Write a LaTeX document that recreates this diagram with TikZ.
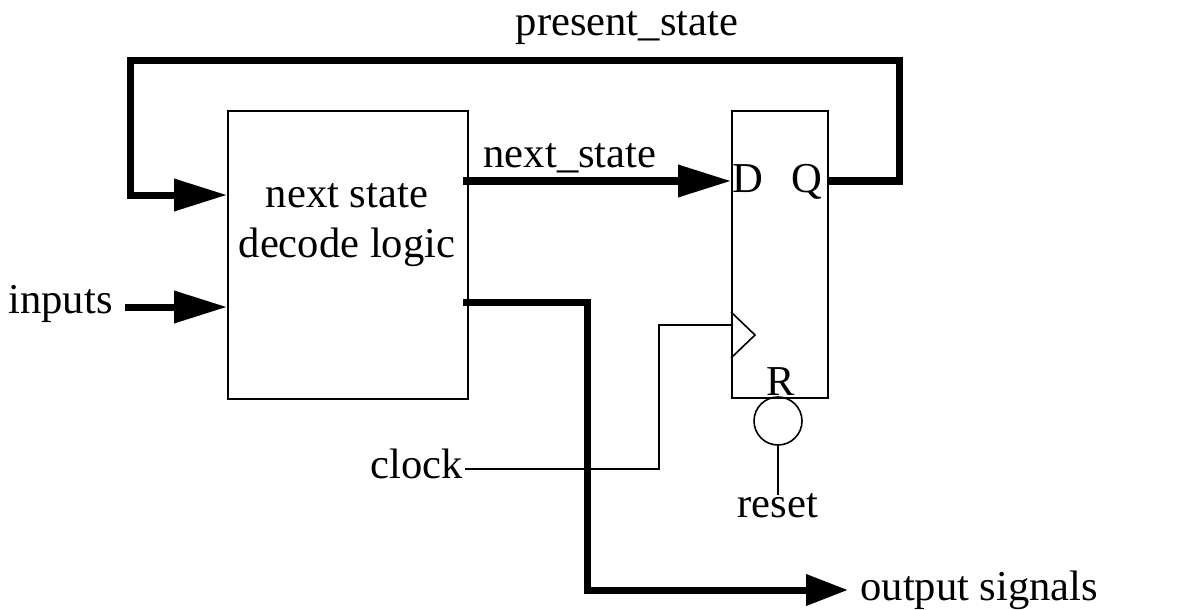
\documentclass[tikz,border=0pt]{standalone}
\usepackage{fontspec}
\setmainfont{Liberation Serif}
\usetikzlibrary{arrows.meta}
\begin{document}
\begin{tikzpicture}[x=0.5pt,y=-0.5pt,
  lbl/.style={font=\fontsize{21.3}{25}\selectfont, inner sep=0pt},
  blockbox/.style={draw, line width=0.8pt, inner sep=0pt, anchor=north west},
  bus/.style={line width=3.5pt},
  busarrow/.style={line width=3.5pt, -{Triangle[length=26.5pt,width=15.5pt]}},
  shortarrow/.style={line width=3.5pt, -{Triangle[length=21pt,width=15pt]}},
  wire/.style={line width=1.2pt}]
\useasboundingbox (0,0) rectangle (1189,610);
% blocks
\node[blockbox, minimum width=120pt, minimum height=144pt] (dec) at (227,110) {};
\node[blockbox, minimum width=48pt, minimum height=143.5pt] (ff) at (731,110) {};
\node[lbl, align=center] (dectext) at (347,225) {next state\\decode logic};
\node[lbl, anchor=base] (D) at (748,192) {D};
\node[lbl, anchor=base] (Q) at (807,192) {Q};
\node[lbl, anchor=base] (R) at (781,395) {R};
% clock triangle
\draw[line width=0.8pt] (731,312) -- (755,335) -- (731,358);
% reset bubble
\node[draw, circle, line width=0.8pt, minimum size=24pt, inner sep=0pt] (bub) at (778,421) {};
% labels
\node[lbl, anchor=base] (ps) at (627,36) {present\_state};
\node[lbl, anchor=base] (ns) at (570,168) {next\_state};
\node[lbl, anchor=base east] (inp) at (113,313) {inputs};
\node[lbl, anchor=base east] (clk) at (463,478) {clock};
\node[lbl, anchor=base] (rst) at (778,517) {reset};
\node[lbl, anchor=base west] (out) at (860,600) {output signals};
% coordinates
\coordinate (qo) at (827,181);
\coordinate (fbR) at (899,181);
\coordinate (fbRT) at (899,61);
\coordinate (fbLT) at (130,61);
\coordinate (fbLB) at (130,195);
\coordinate (fbIn) at (227,195);
\coordinate (nsOut) at (463,181);
\coordinate (nsIn) at (731,181);
\coordinate (inS) at (125,307);
\coordinate (inE) at (227,307);
\coordinate (oS) at (463,302);
\coordinate (oC1) at (587,302);
\coordinate (oC2) at (587,590);
\coordinate (oE) at (848,590);
\coordinate (cC1) at (659,469);
\coordinate (cC2) at (659,325);
\coordinate (cE) at (731,325);
% connectors
\draw[busarrow, line join=miter] (qo) -- (fbR) -- (fbRT) -- (fbLT) -- (fbLB) -- (fbIn);
\draw[busarrow] (nsOut) -- (nsIn);
\draw[busarrow] (inS) -- (inE);
\draw[shortarrow, line join=miter] (oS) -- (oC1) -- (oC2) -- (oE);
\draw[wire] (clk.east |- cC1) ++(2,0) -- (cC1) -- (cC2) -- (cE);
\draw[wire] (bub.south) -- (778,495);
\end{tikzpicture}
\end{document}
